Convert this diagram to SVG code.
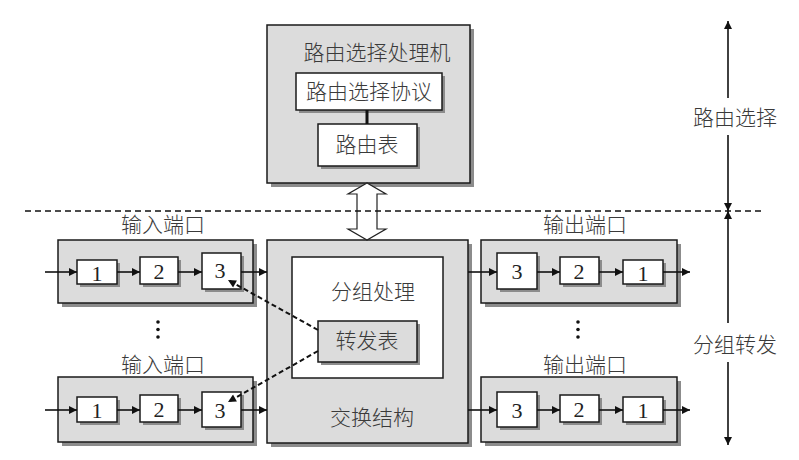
<svg xmlns="http://www.w3.org/2000/svg" width="799" height="460" viewBox="0 0 799 460">
<defs>
<marker id="ah" viewBox="0 0 10 10" refX="10" refY="5" markerWidth="10" markerHeight="8" markerUnits="userSpaceOnUse" orient="auto">
<path d="M0,0 L10,5 L0,10 z" fill="#111"/>
</marker>
</defs>
<style>
.sh{fill:#8c8c8c}
.gbox{fill:#dcdcdc;stroke:#1a1a1a;stroke-width:1.5}
.wbox{fill:#ffffff;stroke:#1a1a1a;stroke-width:1.5}
.t{font-family:"Liberation Serif","Noto Sans CJK SC",serif;font-size:21px;font-weight:300;fill:#3a3a3a;text-anchor:middle;dominant-baseline:central}
.n{font-family:"Liberation Serif",serif;font-size:22px;fill:#222;text-anchor:middle;dominant-baseline:central}
.ln{stroke:#111;stroke-width:1.6;fill:none}
.dash{stroke:#111;stroke-width:2;fill:none;stroke-dasharray:5 3}
.dot{fill:#111}
</style>
<rect width="799" height="460" fill="#fff"/>

<g id="router">
<rect class="sh" x="271" y="29" width="203" height="158"/>
<rect class="gbox" x="267" y="25" width="203" height="158"/>
<text class="t" x="377" y="53">路由选择处理机</text>
</g>
<g id="protocol">
<rect class="sh" x="299" y="76" width="146" height="37"/>
<rect class="wbox" x="296" y="73" width="146" height="37"/>
<text class="t" x="369" y="92">路由选择协议</text>
</g>
<g id="routetable">
<rect class="sh" x="321" y="127" width="99" height="42"/>
<rect class="wbox" x="318" y="124" width="99" height="42"/>
<text class="t" x="367" y="145">路由表</text>
</g>

<g id="switch">
<rect class="sh" x="271" y="244" width="201" height="203"/>
<rect class="gbox" x="267" y="240" width="201" height="203"/>
<text class="t" x="372" y="418">交换结构</text>
</g>
<g id="processing">
<rect class="wbox" x="292" y="257" width="151" height="121"/>
<text class="t" x="373" y="292">分组处理</text>
</g>
<g id="fwdtable">
<rect class="sh" x="321" y="324" width="99" height="41"/>
<rect class="gbox" x="318" y="321" width="99" height="41"/>
<text class="t" x="367" y="341">转发表</text>
</g>

<g id="in1">
<text class="t" x="163" y="225">输入端口</text>
<rect class="sh" x="62" y="244" width="195" height="63"/>
<rect class="gbox" x="58" y="240" width="195" height="63"/>
<rect class="sh" x="80" y="263" width="40" height="24"/>
<rect class="wbox" x="77" y="260" width="40" height="24"/>
<text class="n" x="97" y="273">1</text>
<rect class="sh" x="143" y="260" width="38" height="27"/>
<rect class="wbox" x="140" y="257" width="38" height="27"/>
<text class="n" x="159" y="271">2</text>
<rect class="sh" x="205" y="256" width="39" height="36"/>
<rect class="wbox" x="202" y="253" width="39" height="36"/>
<text class="n" x="220" y="270">3</text>
</g>
<g id="in2">
<text class="t" x="163" y="365">输入端口</text>
<rect class="sh" x="62" y="381" width="195" height="65"/>
<rect class="gbox" x="58" y="377" width="195" height="65"/>
<rect class="sh" x="80" y="400" width="40" height="25"/>
<rect class="wbox" x="77" y="397" width="40" height="25"/>
<text class="n" x="97" y="410">1</text>
<rect class="sh" x="143" y="398" width="38" height="27"/>
<rect class="wbox" x="140" y="395" width="38" height="27"/>
<text class="n" x="159" y="409">2</text>
<rect class="sh" x="205" y="395" width="39" height="35"/>
<rect class="wbox" x="202" y="392" width="39" height="35"/>
<text class="n" x="220" y="410">3</text>
</g>
<g id="out1">
<text class="t" x="585" y="225">输出端口</text>
<rect class="sh" x="485" y="244" width="196" height="63"/>
<rect class="gbox" x="481" y="240" width="196" height="63"/>
<rect class="sh" x="500" y="256" width="40" height="36"/>
<rect class="wbox" x="497" y="253" width="40" height="36"/>
<text class="n" x="517" y="271">3</text>
<rect class="sh" x="563" y="260" width="39" height="27"/>
<rect class="wbox" x="560" y="257" width="39" height="27"/>
<text class="n" x="579" y="271">2</text>
<rect class="sh" x="626" y="263" width="40" height="24"/>
<rect class="wbox" x="623" y="260" width="40" height="24"/>
<text class="n" x="643" y="273">1</text>
</g>
<g id="out2">
<text class="t" x="585" y="365">输出端口</text>
<rect class="sh" x="485" y="381" width="196" height="65"/>
<rect class="gbox" x="481" y="377" width="196" height="65"/>
<rect class="sh" x="500" y="395" width="40" height="35"/>
<rect class="wbox" x="497" y="392" width="40" height="35"/>
<text class="n" x="517" y="410">3</text>
<rect class="sh" x="563" y="398" width="39" height="27"/>
<rect class="wbox" x="560" y="395" width="39" height="27"/>
<text class="n" x="579" y="409">2</text>
<rect class="sh" x="626" y="400" width="40" height="25"/>
<rect class="wbox" x="623" y="397" width="40" height="25"/>
<text class="n" x="643" y="410">1</text>
</g>

<g id="dots">
<circle class="dot" cx="158" cy="322" r="1.8"/>
<circle class="dot" cx="158" cy="329.5" r="1.8"/>
<circle class="dot" cx="158" cy="337" r="1.8"/>
<circle class="dot" cx="578" cy="322" r="1.8"/>
<circle class="dot" cx="578" cy="329.5" r="1.8"/>
<circle class="dot" cx="578" cy="337" r="1.8"/>
</g>

<g id="labels">
<text class="t" x="735" y="118">路由选择</text>
<text class="t" x="735" y="345">分组转发</text>
</g>

<g id="connectors">
<line x1="367" y1="110" x2="367" y2="124" stroke="#111" stroke-width="3"/>
<polygon points="367,183 348,194 357,194 357,229 348,229 367,240 386,229 377,229 377,194 386,194" fill="#fff" stroke="#222" stroke-width="1.2"/>
<line x1="25" y1="211" x2="765" y2="211" stroke="#111" stroke-width="1.5" stroke-dasharray="6 4"/>

<line class="ln" x1="45" y1="272" x2="77" y2="272" marker-end="url(#ah)"/>
<line class="ln" x1="117" y1="272" x2="140" y2="272" marker-end="url(#ah)"/>
<line class="ln" x1="178" y1="272" x2="202" y2="272" marker-end="url(#ah)"/>
<line class="ln" x1="241" y1="272" x2="267" y2="272" marker-end="url(#ah)"/>
<line class="ln" x1="45" y1="410" x2="77" y2="410" marker-end="url(#ah)"/>
<line class="ln" x1="117" y1="410" x2="140" y2="410" marker-end="url(#ah)"/>
<line class="ln" x1="178" y1="410" x2="202" y2="410" marker-end="url(#ah)"/>
<line class="ln" x1="241" y1="410" x2="267" y2="410" marker-end="url(#ah)"/>

<line class="ln" x1="468" y1="272" x2="497" y2="272" marker-end="url(#ah)"/>
<line class="ln" x1="537" y1="272" x2="560" y2="272" marker-end="url(#ah)"/>
<line class="ln" x1="599" y1="272" x2="623" y2="272" marker-end="url(#ah)"/>
<line class="ln" x1="663" y1="272" x2="690" y2="272" marker-end="url(#ah)"/>
<line class="ln" x1="468" y1="410" x2="497" y2="410" marker-end="url(#ah)"/>
<line class="ln" x1="537" y1="410" x2="560" y2="410" marker-end="url(#ah)"/>
<line class="ln" x1="599" y1="410" x2="623" y2="410" marker-end="url(#ah)"/>
<line class="ln" x1="663" y1="410" x2="690" y2="410" marker-end="url(#ah)"/>

<line class="dash" x1="318" y1="330" x2="228" y2="280" marker-end="url(#ah)"/>
<line class="dash" x1="318" y1="351" x2="228" y2="402" marker-end="url(#ah)"/>

<line class="ln" x1="728" y1="98" x2="728" y2="21" marker-end="url(#ah)"/>
<line class="ln" x1="728" y1="135" x2="728" y2="211" marker-end="url(#ah)"/>
<line class="ln" x1="728" y1="323" x2="728" y2="211" marker-end="url(#ah)"/>
<line class="ln" x1="728" y1="362" x2="728" y2="445" marker-end="url(#ah)"/>
</g>
</svg>
